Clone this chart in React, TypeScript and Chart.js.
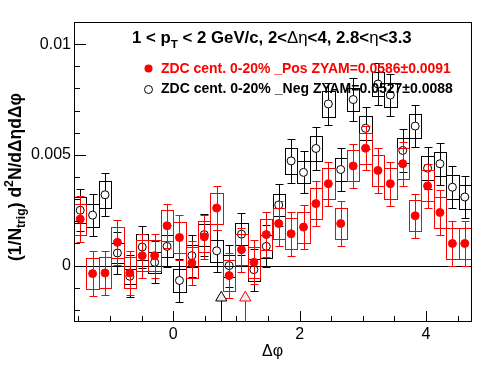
import React, { useEffect, useRef } from "react";
import { Chart, registerables } from "chart.js";
Chart.register(...registerables);

// ---------------- data ----------------
const X_MIN = -Math.PI / 2;
const X_MAX = (3 * Math.PI) / 2;
const BIN_WIDTH = 0.19635;

const dphi = [
  -1.4726, -1.2763, -1.0799, -0.8836, -0.6872, -0.4909, -0.2945, -0.0982,
  0.0982, 0.2945, 0.4909, 0.6872, 0.8836, 1.0799, 1.2763, 1.4726,
  1.669, 1.8653, 2.0617, 2.258, 2.4544, 2.6507, 2.8471, 3.0434,
  3.2398, 3.4361, 3.6325, 3.8288, 4.0252, 4.2215, 4.4179, 4.6142,
];

const posValues = [
  0.0021, -0.00036, -0.00033, 0.00105, -0.00033, 0.00045, 0.00045, 0.0018,
  0.00127, 0.00012, 0.0013, 0.0026, -0.00045, 0.00072, 0.00015, 0.0014,
  0.0019, 0.00144, 0.00174, 0.0028, 0.0037, 0.0019, 0.0045, 0.0053,
  0.0043, 0.0037, 0.0046, 0.00225, 0.0036, 0.0024, 0.001, 0.001,
];
const posStat = [
  0.00103, 0.001, 0.001, 0.001, 0.001, 0.001, 0.001, 0.001,
  0.001, 0.001, 0.001, 0.00101, 0.001, 0.001, 0.001, 0.001,
  0.001, 0.001, 0.001, 0.001, 0.001, 0.001, 0.001, 0.001,
  0.001, 0.001, 0.001, 0.001, 0.001, 0.001, 0.001, 0.001,
];
const posSys = [
  0.0007, 0.0007, 0.0007, 0.0007, 0.0007, 0.0007, 0.0007, 0.0007,
  0.0007, 0.0007, 0.0007, 0.0007, 0.0007, 0.0007, 0.0007, 0.0007,
  0.0007, 0.0007, 0.0007, 0.0007, 0.0007, 0.0007, 0.0007, 0.0007,
  0.0007, 0.0007, 0.0007, 0.0007, 0.0007, 0.0007, 0.0007, 0.0007,
];

const negValues = [
  0.0025, 0.00228, 0.0032, 0.00057, -0.00048, 0.00084, 0.00015, 0.00087,
  -0.00067, 0.00045, 0.0014, 0.00067, 0.0, 0.00142, -0.00018, 0.00087,
  0.00274, 0.00473, 0.00421, 0.00529, 0.0073, 0.00434, 0.0075, 0.0062,
  0.0082, 0.0077, 0.0052, 0.0063, 0.0044, 0.0046, 0.00354, 0.0031,
];
const negStat = [
  0.00095, 0.00095, 0.00097, 0.00095, 0.00095, 0.00095, 0.00095, 0.00095,
  0.00095, 0.00095, 0.00095, 0.00095, 0.00095, 0.00095, 0.00095, 0.00095,
  0.00095, 0.00099, 0.00095, 0.00095, 0.00095, 0.00095, 0.00095, 0.00095,
  0.00095, 0.00095, 0.00095, 0.00095, 0.00095, 0.00095, 0.00095, 0.00095,
];
const negSys = [
  0.00058, 0.00052, 0.0006, 0.00045, 0.00035, 0.0006, 0.00047, 0.0005,
  0.0005, 0.0005, 0.0005, 0.0005, 0.0005, 0.0005, 0.0005, 0.00052,
  0.00048, 0.00058, 0.0005, 0.00058, 0.00057, 0.00052, 0.0005, 0.00055,
  0.00055, 0.00055, 0.00055, 0.00055, 0.00055, 0.00055, 0.00055, 0.00055,
];

// ZYAM minimum markers
const zyamNegX = [0.76];
const zyamPosX = [1.14];
const zyamMarkerY = -0.00145;

// axes
const Y_MIN = -0.0025;
const Y_MAX = 0.011;
const xTickValues = [-1.5, -1, -0.5, 0, 0.5, 1, 1.5, 2, 2.5, 3, 3.5, 4, 4.5];
const xMajorTicks = [0, 2, 4];
const yTickValues = [-0.002, -0.001, 0, 0.001, 0.002, 0.003, 0.004, 0.005, 0.006, 0.007, 0.008, 0.009, 0.01];
const yMajorTicks = [0, 0.005, 0.01];
const yMajorLabels = ["0", "0.005", "0.01"];

const legendPos = "ZDC cent. 0-20% _Pos ZYAM=0.0586\u00b10.0091";
const legendNeg = "ZDC cent. 0-20% _Neg ZYAM=0.0527\u00b10.0088";

const RED = "#ff0000";
const BLACK = "#000000";
const FAMILY = '"Liberation Sans", Arial, Helvetica, sans-serif';

const near = (a: number, b: number) => Math.abs(a - b) < 1e-9;

type Part = { t: string; bold?: boolean; rel?: number; dy?: number };
function fontOf(p: Part, size: number) {
  return `${p.bold === false ? "" : "bold "}${(size * (p.rel || 1)).toFixed(2)}px ${FAMILY}`;
}
function richWidth(ctx: CanvasRenderingContext2D, parts: Part[], size: number) {
  let w = 0;
  for (const p of parts) {
    ctx.font = fontOf(p, size);
    w += ctx.measureText(p.t).width;
  }
  return w;
}
// draws rich text; the font size is tuned so that the text spans `target` px
function drawRich(ctx: CanvasRenderingContext2D, x: number, y: number, parts: Part[], base: number, target: number, align: "left" | "center") {
  const w0 = richWidth(ctx, parts, base);
  const size = target > 0 ? (base * target) / w0 : base;
  const w = richWidth(ctx, parts, size);
  let cx = align === "center" ? x - w / 2 : x;
  ctx.textAlign = "left";
  ctx.textBaseline = "alphabetic";
  for (const p of parts) {
    ctx.font = fontOf(p, size);
    ctx.fillText(p.t, cx, y + (p.dy || 0) * (size / base));
    cx += ctx.measureText(p.t).width;
  }
}

const rootPlugin = {
  id: "rootStyle",
  beforeDatasetsDraw(chart: any) {
    const { ctx, chartArea: ca, scales } = chart;
    const y0 = Math.round(scales.y.getPixelForValue(0)) + 0.5;
    ctx.save();
    ctx.strokeStyle = BLACK;
    ctx.lineWidth = 1;
    ctx.beginPath();
    ctx.moveTo(ca.left, y0);
    ctx.lineTo(ca.right, y0);
    ctx.stroke();
    ctx.restore();
  },
  beforeDatasetDraw(chart: any, args: any) {
    const ds = chart.data.datasets[args.index];
    const { ctx, chartArea: ca, scales } = chart;
    const xs = scales.x;
    const ys = scales.y;
    ctx.save();
    ctx.beginPath();
    ctx.rect(ca.left, ca.top, ca.right - ca.left, ca.bottom - ca.top);
    ctx.clip();
    ctx.lineWidth = 1;
    if (ds.kind === "pos" || ds.kind === "neg") {
      const vals = ds.kind === "pos" ? posValues : negValues;
      const stat = ds.kind === "pos" ? posStat : negStat;
      const sys = ds.kind === "pos" ? posSys : negSys;
      const color = ds.kind === "pos" ? RED : BLACK;
      ctx.strokeStyle = color;
      for (let i = 0; i < dphi.length; i++) {
        const px = Math.round(xs.getPixelForValue(dphi[i])) + 0.5;
        const xl = Math.round(xs.getPixelForValue(dphi[i] - BIN_WIDTH / 2)) + 0.5;
        const xr = Math.round(xs.getPixelForValue(dphi[i] + BIN_WIDTH / 2)) + 0.5;
        const yt = Math.round(ys.getPixelForValue(vals[i] + sys[i])) + 0.5;
        const yb = Math.round(ys.getPixelForValue(vals[i] - sys[i])) + 0.5;
        ctx.strokeRect(xl, yt, xr - xl, yb - yt);
        const py = ys.getPixelForValue(vals[i]);
        const et = Math.round(ys.getPixelForValue(vals[i] + stat[i])) + 0.5;
        const eb = Math.round(ys.getPixelForValue(vals[i] - stat[i])) + 0.5;
        const r = 4;
        ctx.beginPath();
        ctx.moveTo(px, et);
        ctx.lineTo(px, py - r);
        ctx.moveTo(px, py + r);
        ctx.lineTo(px, eb);
        ctx.moveTo(px - 4, et);
        ctx.lineTo(px + 4, et);
        ctx.moveTo(px - 4, eb);
        ctx.lineTo(px + 4, eb);
        ctx.stroke();
      }
    } else if (ds.kind === "zyam") {
      ctx.strokeStyle = ds.borderColor;
      for (const pt of ds.data) {
        const px = Math.round(xs.getPixelForValue(pt.x)) + 0.5;
        const py = ys.getPixelForValue(pt.y);
        ctx.beginPath();
        ctx.moveTo(px, py);
        ctx.lineTo(px, ca.bottom);
        ctx.stroke();
      }
    }
    ctx.restore();
  },
  afterDraw(chart: any) {
    const { ctx, chartArea: ca, scales } = chart;
    const xs = scales.x;
    const ys = scales.y;
    ctx.save();
    ctx.strokeStyle = BLACK;
    ctx.lineWidth = 1;
    // frame
    ctx.strokeRect(Math.round(ca.left) + 0.5, Math.round(ca.top) + 0.5, Math.round(ca.right - ca.left), Math.round(ca.bottom - ca.top));
    // ticks (inward)
    ctx.beginPath();
    for (const v of xTickValues) {
      const px = Math.round(xs.getPixelForValue(v)) + 0.5;
      const len = xMajorTicks.some((m) => near(m, v)) ? 10 : 5;
      ctx.moveTo(px, ca.bottom);
      ctx.lineTo(px, ca.bottom - len);
    }
    for (const v of yTickValues) {
      const py = Math.round(ys.getPixelForValue(v)) + 0.5;
      const len = yMajorTicks.some((m) => near(m, v)) ? 12 : 6;
      ctx.moveTo(ca.left, py);
      ctx.lineTo(ca.left + len, py);
    }
    ctx.stroke();

    // title
    ctx.fillStyle = BLACK;
    drawRich(ctx, 132, 43, [
      { t: "1 < p" },
      { t: "T", rel: 0.7, dy: 5 },
      { t: " < 2 GeV/c, 2<" },
      { t: "\u0394\u03b7", bold: false },
      { t: "<4, 2.8<" },
      { t: "\u03b7", bold: false },
      { t: "<3.3" },
    ], 16, 280, "left");

    // legend
    ctx.fillStyle = RED;
    ctx.beginPath();
    ctx.arc(148.5, 68.5, 4, 0, Math.PI * 2);
    ctx.fill();
    drawRich(ctx, 161, 73, [{ t: legendPos }], 14, 290, "left");
    ctx.fillStyle = BLACK;
    ctx.strokeStyle = BLACK;
    ctx.beginPath();
    ctx.arc(148.5, 89.5, 4, 0, Math.PI * 2);
    ctx.stroke();
    drawRich(ctx, 161, 93, [{ t: legendNeg }], 14, 292, "left");

    // x title
    drawRich(ctx, (ca.left + ca.right) / 2, 356, [{ t: "\u0394\u03c6", bold: false }], 16, 0, "center");

    // y title
    ctx.translate(20.5, 177);
    ctx.rotate(-Math.PI / 2);
    drawRich(ctx, 0, 0, [
      { t: "(1/N" },
      { t: "trig", rel: 0.7, dy: 4 },
      { t: ") d" },
      { t: "2", rel: 0.7, dy: -7 },
      { t: "N/d\u0394\u03b7d\u0394\u03c6" },
    ], 16, 168, "center");
    ctx.restore();
  },
};

export default function App() {
  const ref = useRef<HTMLCanvasElement>(null);
  useEffect(() => {
    document.body.style.margin = "0";
    const canvas = ref.current!;
    const chart = new Chart(canvas, {
      type: "scatter",
      data: {
        datasets: [
          {
            kind: "pos",
            label: legendPos,
            data: dphi.map((x, i) => ({ x, y: posValues[i] })),
            pointStyle: "circle",
            pointRadius: 4,
            pointBackgroundColor: RED,
            pointBorderColor: RED,
            pointBorderWidth: 1,
            showLine: false,
            order: 0,
          } as any,
          {
            kind: "neg",
            label: legendNeg,
            data: dphi.map((x, i) => ({ x, y: negValues[i] })),
            pointStyle: "circle",
            pointRadius: 4,
            pointBackgroundColor: "rgba(0,0,0,0)",
            pointBorderColor: BLACK,
            pointBorderWidth: 1,
            showLine: false,
            order: 1,
          } as any,
          {
            kind: "zyam",
            label: "zyam neg",
            data: zyamNegX.map((x) => ({ x, y: zyamMarkerY })),
            pointStyle: "triangle",
            pointRadius: 6.5,
            pointBackgroundColor: "#eeeeee",
            pointBorderColor: BLACK,
            borderColor: BLACK,
            pointBorderWidth: 1,
            showLine: false,
            order: 2,
          } as any,
          {
            kind: "zyam",
            label: "zyam pos",
            data: zyamPosX.map((x) => ({ x, y: zyamMarkerY })),
            pointStyle: "triangle",
            pointRadius: 6.5,
            pointBackgroundColor: "#eeeeee",
            pointBorderColor: RED,
            borderColor: RED,
            pointBorderWidth: 1,
            showLine: false,
            order: 2,
          } as any,
        ],
      },
      options: {
        animation: false,
        responsive: false,
        devicePixelRatio: 1,
        layout: { padding: { top: 22, right: 25, left: 0, bottom: 0 } },
        plugins: { legend: { display: false }, tooltip: { enabled: false }, title: { display: false } },
        scales: {
          x: {
            type: "linear",
            min: X_MIN,
            max: X_MAX,
            grid: { display: false, drawTicks: false },
            border: { display: false },
            afterBuildTicks: (s: any) => {
              s.ticks = xTickValues.map((v) => ({ value: v }));
            },
            afterFit: (s: any) => {
              s.height = 53;
            },
            ticks: {
              autoSkip: false,
              maxRotation: 0,
              padding: 4,
              color: BLACK,
              font: { size: 16, family: FAMILY },
              callback: (v: any) => (xMajorTicks.some((m) => near(m, Number(v))) ? String(v) : ""),
            },
          },
          y: {
            type: "linear",
            min: Y_MIN,
            max: Y_MAX,
            grid: { display: false, drawTicks: false },
            border: { display: false },
            afterBuildTicks: (s: any) => {
              s.ticks = yTickValues.map((v) => ({ value: v }));
            },
            afterFit: (s: any) => {
              s.width = 74;
            },
            ticks: {
              autoSkip: false,
              padding: 3,
              color: BLACK,
              font: { size: 16, family: FAMILY },
              callback: (v: any) => {
                const k = yMajorTicks.findIndex((m) => near(m, Number(v)));
                return k >= 0 ? yMajorLabels[k] : "";
              },
            },
          },
        },
      },
      plugins: [rootPlugin],
    } as any);
    return () => chart.destroy();
  }, []);
  return (
    <div style={{ width: 496, height: 374, background: "#fff" }}>
      <canvas ref={ref} width={496} height={374} style={{ display: "block", width: 496, height: 374 }} />
    </div>
  );
}
